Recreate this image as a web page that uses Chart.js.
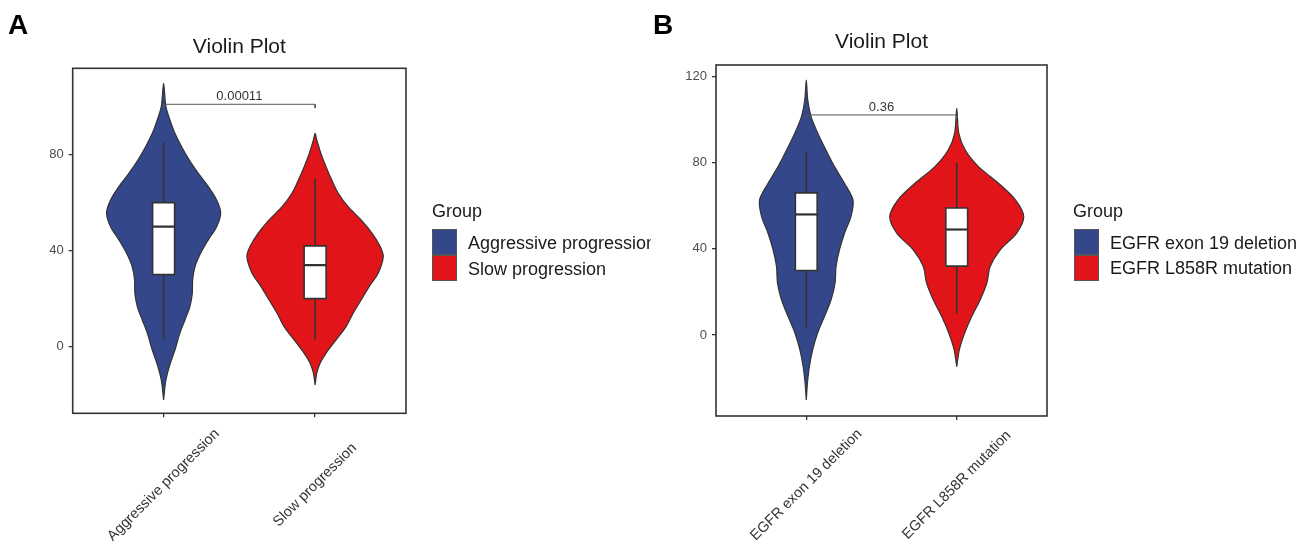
<!DOCTYPE html>
<html><head><meta charset="utf-8">
<script src="https://cdn.jsdelivr.net/npm/chart.js@4.4.0/dist/chart.umd.min.js"></script>
<style>
html,body{margin:0;padding:0;background:#fff;width:1313px;height:547px;overflow:hidden;font-family:"Liberation Sans",Arial,sans-serif;}
canvas{position:absolute;top:0;}
.txt{position:absolute;line-height:1;white-space:nowrap;}
.letter{font-weight:bold;font-size:28px;color:#000;}
.lgt{font-size:18px;color:#1a1a1a;}
.key{position:absolute;box-sizing:border-box;border:1px solid #555;width:25px;height:26px;}
.clip{position:absolute;overflow:hidden;top:0;height:547px;}
</style></head><body>
<canvas id="cA" width="478" height="547" style="left:0px"></canvas>
<canvas id="cB" width="450" height="547" style="left:656px"></canvas>
<div id="overlay"></div>
<script>
// ---------------- data ----------------
const chartTitle = 'Violin Plot';
const legendTitle = 'Group';
const panelLetters = ['A', 'B'];

const categoriesA = ['Aggressive progression', 'Slow progression'];
const categoriesB = ['EGFR exon 19 deletion', 'EGFR L858R mutation'];

const yTicksA = [0, 40, 80];
const yTicksB = [0, 40, 80, 120];
const yRangeA = [-27.8, 116];
const yRangeB = [-37.6, 125.4];

// violin density profiles (value, relative half-width)
const violinA1Values = [109.7, 100, 94.5, 88.9, 83.3, 77.8, 72.2, 66.7, 61.1, 55.6, 50, 44.5, 38.9, 33.3, 27.8, 22.2, 16.7, 11.1, 5.6, -1.4, -8.3, -13.9, -19.4, -22.2];
const violinA1Widths = [0, 0.034, 0.093, 0.166, 0.264, 0.377, 0.51, 0.656, 0.778, 0.837, 0.778, 0.656, 0.543, 0.46, 0.426, 0.421, 0.386, 0.313, 0.239, 0.166, 0.084, 0.034, 0.010, 0];
const violinA2Values = [88.9, 86.1, 80.6, 75, 69.4, 63.9, 58.3, 52.8, 47.2, 41.7, 37.5, 30.6, 25, 19.4, 13.9, 8.3, 2.8, -2.8, -6.9, -11.1, -16];
const violinA2Widths = [0, 0.025, 0.084, 0.16, 0.245, 0.34, 0.485, 0.675, 0.837, 0.955, 1.0, 0.925, 0.793, 0.675, 0.558, 0.455, 0.308, 0.16, 0.073, 0.025, 0];
const violinB1Values = [118.4, 109.1, 101.4, 93.7, 85.9, 78.2, 70.5, 62.7, 55, 47.3, 39.6, 31.9, 24.1, 16.4, 8.7, 1.1, -6.7, -14.4, -22.1, -30.2];
const violinB1Widths = [0, 0.022, 0.071, 0.17, 0.29, 0.417, 0.564, 0.69, 0.66, 0.565, 0.49, 0.44, 0.425, 0.366, 0.27, 0.17, 0.096, 0.047, 0.018, 0];
const violinB2Values = [105.3, 93.7, 85.9, 78.2, 70.5, 62.7, 55, 47.3, 39.6, 31.9, 24.1, 16.4, 8.7, 1.1, -6.7, -14.7];
const violinB2Widths = [0, 0.031, 0.126, 0.322, 0.617, 0.87, 0.99, 0.886, 0.643, 0.495, 0.445, 0.347, 0.223, 0.12, 0.04, 0];

// box stats: [lower whisker, Q1, median, Q3, upper whisker]
const boxA1 = [3, 30, 50, 60, 85];
const boxA2 = [3, 20, 34, 42, 70];
const boxB1 = [3.4, 30, 56, 66, 85];
const boxB2 = [10, 32, 49, 59, 80];

// significance: [tick end, bracket level]
const bracketA = [99.4, 101];
const bracketB = [100.6, 102.2];
const pValueA = '0.00011';
const pValueB = '0.36';

const seriesColors = ['#34478B', '#E11419'];

// ---------------- styling ----------------
const FONT = '"Liberation Sans", Arial, sans-serif';
const VIOLIN_HALF = 0.45;
const BOX_HALF = 0.0725;
const OUTLINE = '#333333';

function violinPoints(center, values, widths) {
  const pts = [];
  for (let i = values.length - 1; i >= 0; i--) pts.push({x: center + VIOLIN_HALF * widths[i], y: values[i]});
  for (let i = 1; i < values.length; i++) pts.push({x: center - VIOLIN_HALF * widths[i], y: values[i]});
  return pts;
}

function makeChart(id, cats, violins, boxes, yTicks, yRange, bracket, pValue, L) {
  const datasets = [];
  violins.forEach((v, i) => {
    datasets.push({label: cats[i], data: violinPoints(i + 1, v[0], v[1]), showLine: true, fill: 'shape',
      backgroundColor: seriesColors[i], borderColor: OUTLINE, borderWidth: 1.2, pointRadius: 0, tension: 0.3, order: 10});
  });
  boxes.forEach((b, i) => {
    const c = i + 1;
    datasets.push({data: [{x: c, y: b[0]}, {x: c, y: b[4]}], showLine: true, fill: false,
      borderColor: OUTLINE, borderWidth: 1.6, pointRadius: 0, order: 9});
    datasets.push({data: [{x: c - BOX_HALF, y: b[1]}, {x: c + BOX_HALF, y: b[1]}, {x: c + BOX_HALF, y: b[3]}, {x: c - BOX_HALF, y: b[3]}, {x: c - BOX_HALF, y: b[1]}],
      showLine: true, fill: 'shape', backgroundColor: '#ffffff', borderColor: OUTLINE, borderWidth: 1.6, pointRadius: 0, tension: 0, order: 8});
    datasets.push({data: [{x: c - BOX_HALF, y: b[2]}, {x: c + BOX_HALF, y: b[2]}], showLine: true, fill: false,
      borderColor: OUTLINE, borderWidth: 2.2, pointRadius: 0, order: 7});
  });
  datasets.push({data: [{x: 1, y: bracket[0]}, {x: 1, y: bracket[1]}, {x: 2, y: bracket[1]}, {x: 2, y: bracket[0]}],
    showLine: true, fill: false, borderColor: '#555', borderWidth: 1, pointRadius: 0, order: 1});

  const deco = {
    id: 'deco',
    afterDatasetsDraw(chart) {
      const ctx = chart.ctx, xs = chart.scales.x, ys = chart.scales.y;
      ctx.save();
      ctx.fillStyle = '#333';
      ctx.font = '13px ' + FONT;
      ctx.textAlign = 'center';
      ctx.textBaseline = 'alphabetic';
      ctx.fillText(pValue, xs.getPixelForValue(1.5), ys.getPixelForValue(bracket[1]) - 4);
      ctx.restore();
    },
    afterDraw(chart) {
      const ctx = chart.ctx, a = chart.chartArea, xs = chart.scales.x;
      ctx.save();
      ctx.strokeStyle = OUTLINE;
      ctx.lineWidth = 1.6;
      ctx.strokeRect(a.left, a.top, a.right - a.left, a.bottom - a.top);
      ctx.fillStyle = '#333';
      ctx.font = '14.5px ' + FONT;
      ctx.textAlign = 'center';
      ctx.textBaseline = 'middle';
      cats.forEach((lab, i) => {
        ctx.save();
        ctx.translate(xs.getPixelForValue(i + 1), a.bottom + L.labelOffset);
        ctx.rotate(-Math.PI / 4);
        ctx.fillText(lab, 0, 0);
        ctx.restore();
      });
      ctx.restore();
    }
  };

  return new Chart(document.getElementById(id), {
    type: 'scatter',
    data: {datasets},
    options: {
      responsive: false, animation: false, events: [],
      layout: {padding: {left: 0, right: L.padRight, top: 0, bottom: L.padBottom}},
      plugins: {
        legend: {display: false}, tooltip: {enabled: false},
        title: {display: true, text: chartTitle, fullSize: false, color: '#1a1a1a',
          font: {size: 21, family: FONT, weight: 'normal'}, padding: {top: L.titleTop, bottom: L.titleBottom}}
      },
      scales: {
        x: {type: 'linear', min: 0.4, max: 2.6,
          afterBuildTicks: s => { s.ticks = cats.map((_, i) => ({value: i + 1})); },
          ticks: {display: false},
          grid: {drawOnChartArea: false, drawTicks: true, tickLength: 4, color: OUTLINE, lineWidth: 1.3},
          border: {display: false},
          afterFit: s => { s.height = 10; }},
        y: {type: 'linear', min: yRange[0], max: yRange[1],
          afterBuildTicks: s => { s.ticks = yTicks.map(v => ({value: v})); },
          ticks: {color: '#4d4d4d', font: {size: 13, family: FONT}, padding: 5},
          grid: {drawOnChartArea: false, drawTicks: true, tickLength: 4, color: OUTLINE, lineWidth: 1.3},
          border: {display: false},
          afterFit: s => { s.width = L.yWidth; }}
      }
    },
    plugins: [deco]
  });
}

makeChart('cA', categoriesA, [[violinA1Values, violinA1Widths], [violinA2Values, violinA2Widths]], [boxA1, boxA2],
  yTicksA, yRangeA, bracketA, pValueA, {padRight: 72, padBottom: 123.7, yWidth: 72.7, titleTop: 34.9, titleBottom: 8.2, labelOffset: 71.7});
makeChart('cB', categoriesB, [[violinB1Values, violinB1Widths], [violinB2Values, violinB2Widths]], [boxB1, boxB2],
  yTicksB, yRangeB, bracketB, pValueB, {padRight: 59, padBottom: 121, yWidth: 60, titleTop: 29.9, titleBottom: 9.9, labelOffset: 69});

// ---------------- overlay: panel letters and legends ----------------
const ov = document.getElementById('overlay');
function addText(cls, text, left, top, parent) {
  const d = document.createElement('div');
  d.className = 'txt ' + cls; d.textContent = text;
  d.style.left = left + 'px'; d.style.top = top + 'px';
  (parent || ov).appendChild(d);
}
addText('letter', panelLetters[0], 8, 11.3);
addText('letter', panelLetters[1], 653, 11.3);

function legend(cats, x0, keyX, textX, clipRight, tops) {
  const clip = document.createElement('div');
  clip.className = 'clip';
  clip.style.left = '0px'; clip.style.width = clipRight + 'px';
  ov.appendChild(clip);
  addText('lgt', legendTitle, x0, 202.2, clip);
  cats.forEach((c, i) => {
    const k = document.createElement('div');
    k.className = 'key';
    k.style.left = keyX + 'px'; k.style.top = (229 + i * 25.5) + 'px';
    k.style.background = seriesColors[i];
    clip.appendChild(k);
    addText('lgt', c, textX, tops[i], clip);
  });
}
legend(categoriesA, 432, 431.5, 468, 651, [234.2, 259.5]);
legend(categoriesB, 1073, 1074, 1110, 1313, [233.6, 259]);
</script>
</body></html>
